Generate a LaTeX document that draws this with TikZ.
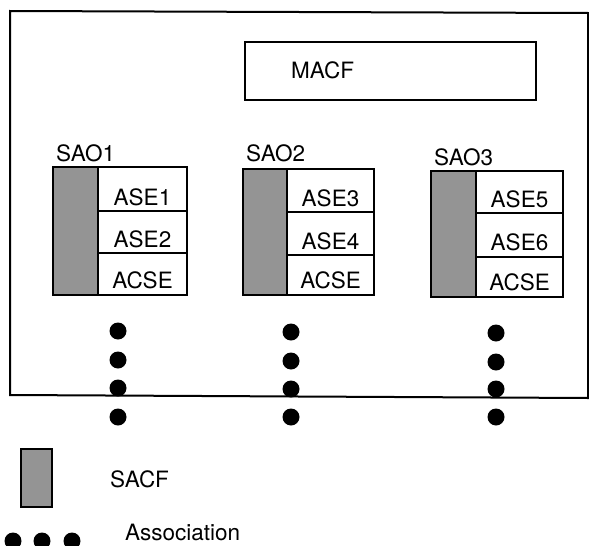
\documentclass[tikz,border=0pt]{standalone}
\usepackage{fontspec}
\setmainfont{TeX Gyre Heros}
\begin{document}
\begin{tikzpicture}[x=1pt,y=-1pt,
  box/.style={draw, line width=2.1pt, inner sep=0pt, outer sep=0pt, anchor=north west},
  sacf/.style={box, fill=black!42},
  lbl/.style={font=\fontsize{22.5}{26}\selectfont, inner sep=0pt, anchor=base},
  lblw/.style={lbl, anchor=base west},
  dot/.style={circle, fill=black, inner sep=0pt, minimum size=17pt},
]
\useasboundingbox (0,0) rectangle (589,546);
% outer frame
\coordinate (f1) at (10,11);
\coordinate (f2) at (588,13);
\coordinate (f3) at (588,398);
\coordinate (f4) at (10,395);
\draw[line width=2pt] (f1) -- (f2) -- (f3) -- (f4) -- cycle;

% MACF
\node[box, minimum width=291pt, minimum height=58pt] (macf) at (245,42) {};
\node[lblw] (macft) at (291,78) {MACF};

% SAO1
\node[lblw] (sao1) at (56,161) {SAO1};
\node[sacf, minimum width=45pt, minimum height=128pt] (sh1) at (53,167) {};
\node[box, minimum width=89pt, minimum height=44pt] (a1) at (98,167) {};
\node[box, minimum width=89pt, minimum height=42pt] (b1) at (98,211) {};
\node[box, minimum width=89pt, minimum height=42pt] (c1) at (98,253) {};
\node[lbl] at (142.5,205) {ASE1};
\node[lbl] at (142.5,247) {ASE2};
\node[lbl] at (142.5,288) {ACSE};

% SAO2
\node[lblw] (sao2) at (246,161) {SAO2};
\node[sacf, minimum width=44pt, minimum height=126pt] (sh2) at (243,169) {};
\node[box, minimum width=87pt, minimum height=43pt] (a2) at (287,169) {};
\node[box, minimum width=87pt, minimum height=43pt] (b2) at (287,212) {};
\node[box, minimum width=87pt, minimum height=40pt] (c2) at (287,255) {};
\node[lbl] at (330.5,206) {ASE3};
\node[lbl] at (330.5,249) {ASE4};
\node[lbl] at (330.5,288) {ACSE};

% SAO3
\node[lblw] (sao3) at (434,165) {SAO3};
\node[sacf, minimum width=45pt, minimum height=126pt] (sh3) at (431,171) {};
\node[box, minimum width=87pt, minimum height=42pt] (a3) at (476,171) {};
\node[box, minimum width=87pt, minimum height=44pt] (b3) at (476,213) {};
\node[box, minimum width=87pt, minimum height=40pt] (c3) at (476,257) {};
\node[lbl] at (519.5,207) {ASE5};
\node[lbl] at (519.5,250) {ASE6};
\node[lbl] at (519.5,290) {ACSE};

% association dots
\foreach \y [count=\i] in {331,360,388,417} \node[dot] (d1\i) at (118,\y) {};
\foreach \y [count=\i] in {332,361,389,417} \node[dot] (d2\i) at (291,\y) {};
\foreach \y [count=\i] in {333,362,389,417} \node[dot] (d3\i) at (496,\y) {};

% legend
\node[sacf, minimum width=31pt, minimum height=58pt] (leg) at (21,449) {};
\node[lblw] (legt) at (110,487) {SACF};
\node[dot] (l1) at (13,541) {};
\node[dot] (l2) at (42,541) {};
\node[dot] (l3) at (72,541) {};
\node[lblw] (assoc) at (125,540) {Association};
\end{tikzpicture}
\end{document}
